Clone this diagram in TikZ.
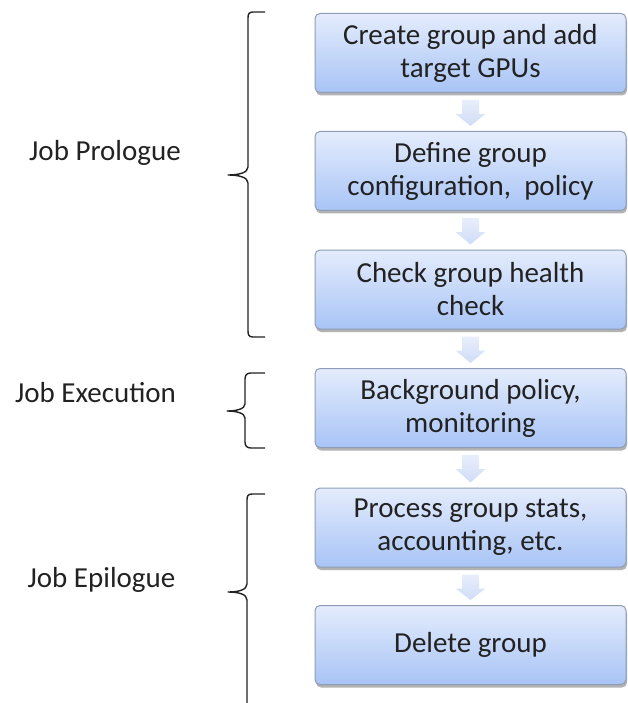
\documentclass[tikz,border=0pt]{standalone}
\usepackage{fontspec}
\setmainfont{Carlito}
\usetikzlibrary{calc,shadows}
\definecolor{boxtop}{HTML}{E4ECFC}
\definecolor{boxbot}{HTML}{A8C4F6}
\definecolor{boxline}{HTML}{8E9DB5}
\definecolor{arrtop}{HTML}{E8EEFB}
\definecolor{arrbot}{HTML}{D0DCF7}
\definecolor{inkc}{HTML}{222222}
\begin{document}
\begin{tikzpicture}[x=1pt,y=-1pt,
  stepbox/.style={draw=boxline, line width=1pt, rounded corners=5pt,
    top color=boxtop, bottom color=boxbot,
    minimum width=311pt, minimum height=79pt, inner sep=0pt,
    align=center, font=\fontsize{29}{33}\selectfont, text=inkc,
    drop shadow={shadow xshift=1pt, shadow yshift=-3pt, opacity=0.3, fill=black}},
  phase/.style={font=\fontsize{29}{33}\selectfont, anchor=base, text=inkc},
  brace/.style={draw=inkc, line width=1.4pt, line join=round},
  flow/.style={top color=arrtop, bottom color=arrbot, draw=none}]
\useasboundingbox (0,0) rectangle (628,703);

\node[stepbox] (b1) at (470.5,53)   {Create group and add\\target GPUs};
\node[stepbox] (b2) at (470.5,171)  {Define group\\configuration,\ \ policy};
\node[stepbox] (b3) at (470.5,289.5){Check group health\\check};
\node[stepbox] (b4) at (470.5,408)  {Background policy,\\monitoring};
\node[stepbox] (b5) at (470.5,527.5){Process group stats,\\accounting, etc.};
\node[stepbox] (b6) at (470.5,645)  {Delete group};

\foreach \a/\b in {b1/b2,b2/b3,b3/b4,b4/b5,b5/b6}{
  \path[flow] ($(\a.south)+(-8.5,7)$) -- ($(\a.south)+(8.5,7)$)
    -- ($(\a.south)+(8.5,21)$) -- ($(\a.south)+(15,21)$)
    -- ($(\b.north)+(0,-5)$)
    -- ($(\a.south)+(-15,21)$) -- ($(\a.south)+(-8.5,21)$) -- cycle;
}

\node[phase] (pro) at (105,161) {Job Prologue};
\node[phase] (exe) at (95.5,402) {Job Execution};
\node[phase] (epi) at (101.5,587) {Job Epilogue};

% Job Prologue brace
\draw[brace] (265,12) -- (253,12) .. controls (249,12) and (248,14) .. (248,18)
  -- (248,167) .. controls (248,173) and (238,175) .. (228,175)
  .. controls (238,175) and (248,177) .. (248,183)
  -- (248,331) .. controls (248,335) and (249,337) .. (253,337) -- (265,337);
% Job Execution brace
\draw[brace] (265,373) -- (251,373) .. controls (247,373) and (245,375) .. (245,379)
  -- (245,404) .. controls (245,409) and (236,411) .. (227,411)
  .. controls (236,411) and (245,413) .. (245,418)
  -- (245,442) .. controls (245,446) and (247,448) .. (251,448) -- (265,448);
% Job Epilogue brace
\draw[brace] (265,494) -- (252,494) .. controls (248,494) and (247,496) .. (247,500)
  -- (247,584) .. controls (247,590) and (238,592) .. (228,592)
  .. controls (238,592) and (247,594) .. (247,600)
  -- (247,703);
\end{tikzpicture}
\end{document}
